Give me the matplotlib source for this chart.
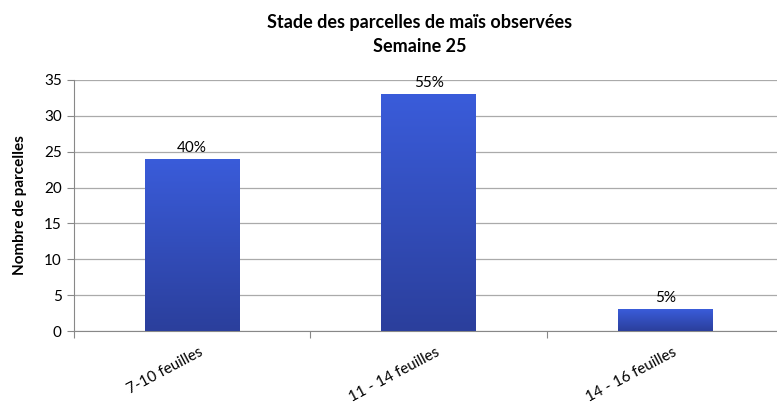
import matplotlib
matplotlib.use("Agg")
import matplotlib.pyplot as plt
import numpy as np
from matplotlib.colors import LinearSegmentedColormap

categories = ["7-10 feuilles", "11 - 14 feuilles", "14 - 16 feuilles"]
values = [24, 33, 3]
labels = ["40%", "55%", "5%"]

plt.rcParams['font.family'] = ['Lato', 'DejaVu Sans']

fig = plt.figure(figsize=(7.77, 4.05), dpi=100)
ax = fig.add_axes([0.0947, 0.1827, 0.914, 0.6198])

x = np.arange(len(categories))
w = 0.4
bars = ax.bar(x, values, width=w, color="#3350c8", zorder=3)
cmap = LinearSegmentedColormap.from_list("g", ["#2b3f9c", "#3a5cda"])
grad = np.linspace(0, 1, 256).reshape(-1, 1)
for b in bars:
    bx, by = b.get_x(), b.get_y()
    bw, bh = b.get_width(), b.get_height()
    im = ax.imshow(grad, cmap=cmap, origin="lower", aspect="auto",
                   extent=[bx, bx + bw, by, by + bh], zorder=3.5)
    im.set_clip_path(b)
for xi, v, l in zip(x, values, labels):
    ax.text(xi, v + 0.6, l, ha="center", va="bottom", fontsize=11, color="black")

ax.set_xlim(-0.5, 2.5)
ax.set_ylim(0, 35)
ax.set_yticks(range(0, 36, 5))
ax.set_xticks([-0.5, 0.5, 1.5, 2.5])
ax.set_xticklabels([])
ax.set_xticks(x + 0.03, minor=True)
ax.set_xticklabels(categories, minor=True, rotation=28, ha="right", rotation_mode="anchor", fontsize=11)
ax.tick_params(axis="x", which="minor", length=0, pad=10)
ax.tick_params(axis="x", which="major", length=5, color="#888888")
ax.tick_params(axis="y", length=5, color="#888888", labelsize=11)
ax.grid(axis="y", color="#aaaaaa", linewidth=0.9, zorder=0)
for s in ["top", "right"]:
    ax.spines[s].set_visible(False)
for s in ["left", "bottom"]:
    ax.spines[s].set_color("#888888")
ax.set_ylabel("Nombre de parcelles", fontsize=11, fontweight="bold", labelpad=12)
fig.text(0.54, 0.945, "Stade des parcelles de maïs observées", ha="center", va="center", fontsize=13, fontweight="bold")
fig.text(0.54, 0.885, "Semaine 25", ha="center", va="center", fontsize=13, fontweight="bold")
fig.savefig("out.png", dpi=100)
